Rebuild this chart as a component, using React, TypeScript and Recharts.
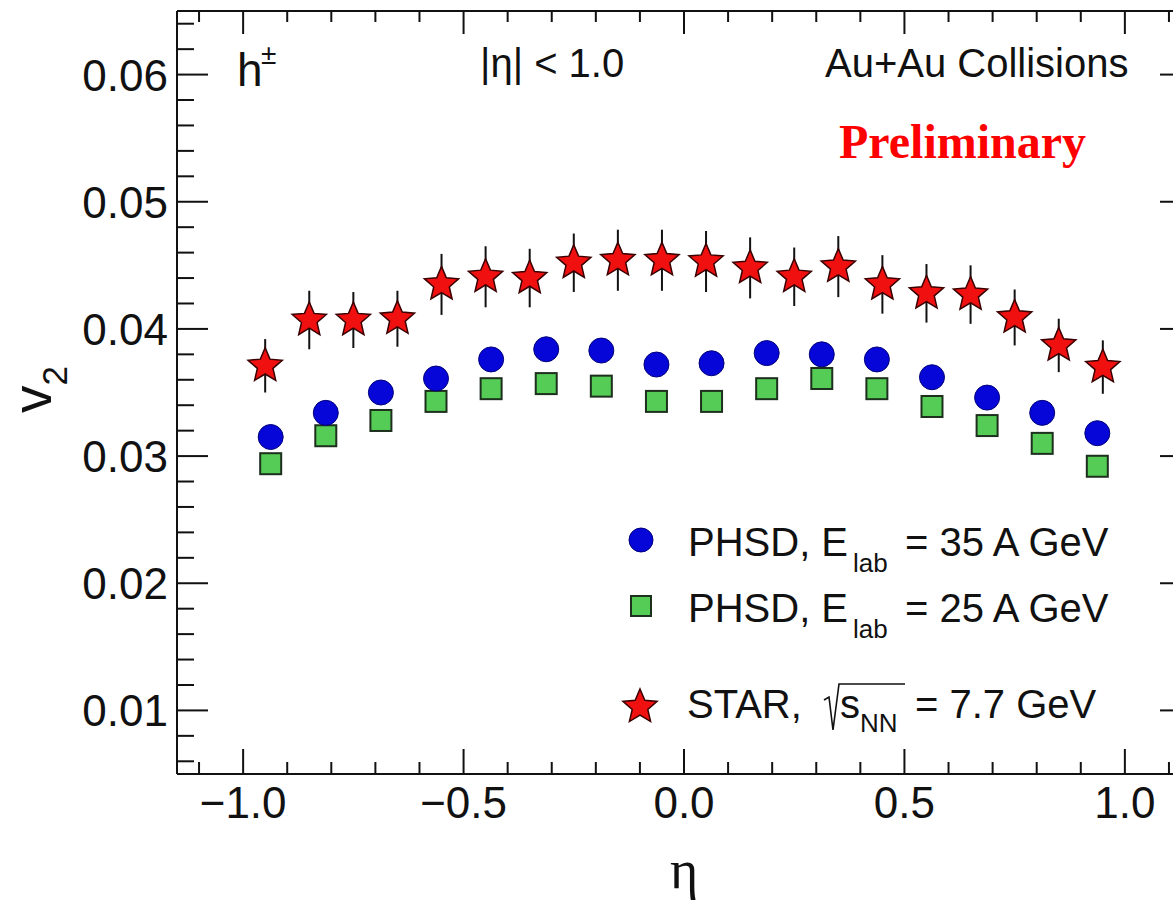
import React from "react";
import { ErrorBar, Scatter, ScatterChart, XAxis, YAxis } from "recharts";

// STAR, sqrt(s_NN) = 7.7 GeV
const starEta = [-0.95, -0.85, -0.75, -0.65, -0.55, -0.45, -0.35, -0.25, -0.15, -0.05, 0.05, 0.15, 0.25, 0.35, 0.45, 0.55, 0.65, 0.75, 0.85, 0.95];
const starV2 = [0.0371, 0.0407, 0.0407, 0.0408, 0.0435, 0.0441, 0.044, 0.0452, 0.0454, 0.0454, 0.0453, 0.0448, 0.0441, 0.0449, 0.0435, 0.0428, 0.0427, 0.0409, 0.0387, 0.037];
const starErr = [0.0021, 0.0023, 0.0022, 0.0022, 0.0024, 0.0024, 0.0023, 0.0023, 0.0024, 0.0024, 0.0024, 0.0024, 0.0023, 0.0024, 0.0023, 0.0023, 0.0023, 0.0022, 0.0021, 0.0021];

// PHSD
const phsdEta = [-0.9375, -0.8125, -0.6875, -0.5625, -0.4375, -0.3125, -0.1875, -0.0625, 0.0625, 0.1875, 0.3125, 0.4375, 0.5625, 0.6875, 0.8125, 0.9375];
const phsd35V2 = [0.0315, 0.0334, 0.035, 0.0361, 0.0376, 0.0384, 0.0383, 0.0372, 0.0373, 0.0381, 0.038, 0.0376, 0.0362, 0.0346, 0.0334, 0.0318];
const phsd25V2 = [0.0294, 0.0316, 0.0328, 0.0343, 0.0353, 0.0357, 0.0355, 0.0343, 0.0343, 0.0353, 0.0361, 0.0353, 0.0339, 0.0324, 0.031, 0.0292];

const xTicks = [-1.1, -1.0, -0.9, -0.8, -0.7, -0.6, -0.5, -0.4, -0.3, -0.2, -0.1, 0.0, 0.1, 0.2, 0.3, 0.4, 0.5, 0.6, 0.7, 0.8, 0.9, 1.0, 1.1];
const xMajorTicks = [-1.0, -0.5, 0.0, 0.5, 1.0];
const yTicks = [0.006, 0.008, 0.01, 0.012, 0.014, 0.016, 0.018, 0.02, 0.022, 0.024, 0.026, 0.028, 0.03, 0.032, 0.034, 0.036, 0.038, 0.04, 0.042, 0.044, 0.046, 0.048, 0.05, 0.052, 0.054, 0.056, 0.058, 0.06, 0.062, 0.064];
const yMajorTicks = [0.01, 0.02, 0.03, 0.04, 0.05, 0.06];

const starData = starEta.map((eta, i) => ({ eta, v2: starV2[i], err: starErr[i] }));
const phsd35Data = phsdEta.map((eta, i) => ({ eta, v2: phsd35V2[i] }));
const phsd25Data = phsdEta.map((eta, i) => ({ eta, v2: phsd25V2[i] }));

const SANS = "'Liberation Sans', Arial, Helvetica, sans-serif";
const SERIF = "'Liberation Serif', 'Times New Roman', serif";
const INK = "#111";

const isMajor = (v: number, majors: number[]) => majors.some((m) => Math.abs(m - v) < 1e-6);

function starPath(cx: number, cy: number, ro: number, ri: number) {
  let d = "";
  for (let k = 0; k < 10; k++) {
    const r = k % 2 === 0 ? ro : ri;
    const a = -Math.PI / 2 + (k * Math.PI) / 5;
    d += (k === 0 ? "M" : "L") + (cx + r * Math.cos(a)).toFixed(2) + " " + (cy + r * Math.sin(a)).toFixed(2);
  }
  return d + "Z";
}

const CircleMark = (p: any) => <circle cx={p.cx} cy={p.cy} r={12.5} fill="#0606d8" stroke="#00007a" strokeWidth={1} />;
const SquareMark = (p: any) => (
  <rect x={p.cx - 10.5} y={p.cy - 10.5} width={21} height={21} fill="#55cc55" stroke="#1d2f1d" strokeWidth={2} />
);
const StarMark = (p: any) => <path d={starPath(p.cx, p.cy, 18, 8.2)} fill="#f01010" stroke="#3a0000" strokeWidth={1.5} />;
const NoMark = () => <g />;

const fmtX = (v: number) => (v < 0 ? "\u2212" + Math.abs(v).toFixed(1) : v.toFixed(1));

function BottomTick(props: any) {
  const { x, y, payload } = props;
  const major = isMajor(payload.value, xMajorTicks);
  return (
    <g>
      <line x1={x} x2={x} y1={y} y2={y - (major ? 25 : 12)} stroke={INK} strokeWidth={2} />
      {major && (
        <text x={x} y={y + 44} textAnchor="middle" fontSize={44} fontFamily={SANS} fill={INK}>
          {fmtX(payload.value)}
        </text>
      )}
    </g>
  );
}

function TopTick(props: any) {
  const { x, y, payload } = props;
  const major = isMajor(payload.value, xMajorTicks);
  return <line x1={x} x2={x} y1={y} y2={y + (major ? 23 : 11)} stroke={INK} strokeWidth={2} />;
}

function LeftTick(props: any) {
  const { x, y, payload } = props;
  const major = isMajor(payload.value, yMajorTicks);
  return (
    <g>
      <line x1={x} x2={x + (major ? 31 : 17)} y1={y} y2={y} stroke={INK} strokeWidth={2} />
      {major && (
        <text x={x - 9} y={y + 16} textAnchor="end" fontSize={44} fontFamily={SANS} fill={INK}>
          {payload.value.toFixed(2)}
        </text>
      )}
    </g>
  );
}

function RightTick(props: any) {
  const { x, y, payload } = props;
  const major = isMajor(payload.value, yMajorTicks);
  return <line x1={x} x2={x - (major ? 31 : 17)} y1={y} y2={y} stroke={INK} strokeWidth={2} />;
}

function Overlay() {
  return (
    <svg width={1173} height={907} style={{ position: "absolute", left: 0, top: 0, pointerEvents: "none" }}>
      <g fontFamily={SANS} fill={INK}>
        <text x={237} y={86} fontSize={46}>h</text>
        <text x={261} y={64} fontSize={28}>±</text>
        <text x={480} y={77} fontSize={40}>|η| &lt; 1.0</text>
        <text x={825} y={77} fontSize={40}>Au+Au Collisions</text>

        {/* legend */}
        <circle cx={641} cy={540} r={12} fill="#0606d8" stroke="#00007a" strokeWidth={1} />
        <text x={688} y={556} fontSize={40}>
          PHSD, E
          <tspan x={853} dy={16} fontSize={26}>lab</tspan>
          <tspan x={905} dy={-16}>= 35 A GeV</tspan>
        </text>
        <rect x={631} y={596} width={20} height={20} fill="#55cc55" stroke="#1d2f1d" strokeWidth={2} />
        <text x={688} y={622} fontSize={40}>
          PHSD, E
          <tspan x={853} dy={16} fontSize={26}>lab</tspan>
          <tspan x={905} dy={-16}>= 25 A GeV</tspan>
        </text>
        <path d={starPath(640, 707, 18, 8.2)} fill="#f01010" stroke="#3a0000" strokeWidth={1.5} />
        <text x={687} y={718} fontSize={40}>STAR,</text>
        <path d="M824 700 L829 697 L833 730 L839 684 L905 684" fill="none" stroke={INK} strokeWidth={1.6} />
        <text x={840} y={718} fontSize={40}>
          s<tspan dy={14} fontSize={26}>NN</tspan>
          <tspan x={915} dy={-14}>= 7.7 GeV</tspan>
        </text>

        <text x={839} y={158} fontSize={48} fontWeight="bold" fontFamily={SERIF} fill="#ff0000">
          Preliminary
        </text>

        {/* axis titles */}
        <g transform="translate(51 413) rotate(-90)">
          <text x={0} y={0} fontSize={55}>
            v<tspan dy={16} fontSize={35}>2</tspan>
          </text>
        </g>
        <text x={684} y={888} textAnchor="middle" fontSize={54} fontFamily={SERIF}>η</text>
      </g>
    </svg>
  );
}

export default function App() {
  return (
    <div style={{ position: "absolute", left: 0, top: 0, width: 1173, height: 907, overflow: "hidden", background: "#fff", fontFamily: SANS }}>
      <ScatterChart width={1200} height={907} margin={{ top: 0, right: 0, bottom: 0, left: 0 }}>
        <XAxis
          xAxisId="bottom"
          orientation="bottom"
          type="number"
          dataKey="eta"
          domain={[-1.15, 1.15]}
          ticks={xTicks}
          interval={0}
          height={133}
          tickSize={0}
          tickMargin={0}
          tickLine={false}
          tick={<BottomTick />}
          axisLine={{ stroke: INK, strokeWidth: 2 }}
          allowDataOverflow
        />
        <XAxis
          xAxisId="top"
          orientation="top"
          type="number"
          dataKey="eta"
          domain={[-1.15, 1.15]}
          ticks={xTicks}
          interval={0}
          height={11}
          tickSize={0}
          tickMargin={0}
          tickLine={false}
          tick={<TopTick />}
          axisLine={{ stroke: INK, strokeWidth: 2 }}
          allowDataOverflow
        />
        <YAxis
          yAxisId="left"
          orientation="left"
          type="number"
          dataKey="v2"
          domain={[0.005, 0.065]}
          ticks={yTicks}
          interval={0}
          width={177}
          tickSize={0}
          tickMargin={0}
          tickLine={false}
          tick={<LeftTick />}
          axisLine={{ stroke: INK, strokeWidth: 2 }}
          allowDataOverflow
        />
        <YAxis
          yAxisId="right"
          orientation="right"
          type="number"
          dataKey="v2"
          domain={[0.005, 0.065]}
          ticks={yTicks}
          interval={0}
          width={9}
          tickSize={0}
          tickMargin={0}
          tickLine={false}
          tick={<RightTick />}
          axisLine={{ stroke: INK, strokeWidth: 2 }}
          allowDataOverflow
        />
        <Scatter name="PHSD 25" data={phsd25Data} xAxisId="bottom" yAxisId="left" shape={SquareMark} isAnimationActive={false} />
        <Scatter name="PHSD 35" data={phsd35Data} xAxisId="bottom" yAxisId="left" shape={CircleMark} isAnimationActive={false} />
        <Scatter name="STAR" data={starData} xAxisId="bottom" yAxisId="left" shape={StarMark} isAnimationActive={false} />
        <Scatter name="STAR err" data={starData} xAxisId="bottom" yAxisId="left" shape={NoMark} isAnimationActive={false}>
          <ErrorBar dataKey="err" direction="y" width={0} stroke={INK} strokeWidth={2} />
        </Scatter>
      </ScatterChart>
      <Overlay />
    </div>
  );
}
